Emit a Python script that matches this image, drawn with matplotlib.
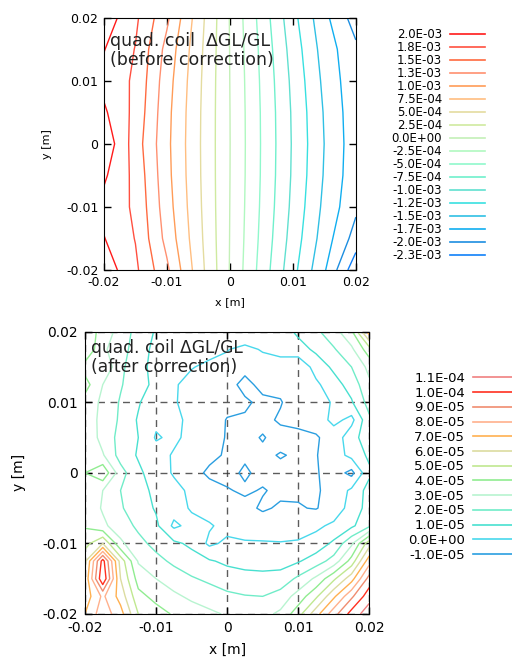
import numpy as np
import matplotlib
matplotlib.use("Agg")
import matplotlib.pyplot as plt
from matplotlib.lines import Line2D

plt.rcParams['font.family'] = ['DejaVu Sans']

# ---------------- top chart data (values in units of 1e-3) ----------------
x_top = [-0.02, -0.015, -0.01, -0.005, 0.0, 0.005, 0.01, 0.015, 0.02]
y_top = [-0.02, -0.015, -0.01, -0.005, 0.0, 0.005, 0.01, 0.015, 0.02]
z_top = [
    [2.15, 1.80, 1.30, 0.620, -0.012, -0.590, -1.170, -1.72, -2.430],
    [2.01, 1.74, 1.17, 0.580, -0.006, -0.555, -1.105, -1.62, -2.106],
    [1.92, 1.71, 1.11, 0.555, -0.002, -0.532, -1.061, -1.56, -1.950],
    [2.04, 1.68, 1.075, 0.540, 0.002, -0.518, -1.035, -1.52, -1.910],
    [2.19, 1.63, 1.06, 0.535, 0.004, -0.514, -1.026, -1.503, -1.900],
    [2.04, 1.68, 1.075, 0.540, 0.002, -0.518, -1.035, -1.52, -1.910],
    [1.92, 1.71, 1.11, 0.555, -0.002, -0.532, -1.061, -1.56, -1.930],
    [2.01, 1.74, 1.17, 0.580, -0.006, -0.555, -1.105, -1.61, -1.950],
    [2.15, 1.80, 1.30, 0.620, -0.012, -0.590, -1.170, -1.68, -2.120],
]
levels_top = [2.0, 1.75, 1.5, 1.25, 1.0, 0.75, 0.5, 0.25, 0.0,
              -0.25, -0.5, -0.75, -1.0, -1.25, -1.5, -1.75, -2.0, -2.25]
labels_top = ["2.0E-03", "1.8E-03", "1.5E-03", "1.3E-03", "1.0E-03", "7.5E-04",
              "5.0E-04", "2.5E-04", "0.0E+00", "-2.5E-04", "-5.0E-04", "-7.5E-04",
              "-1.0E-03", "-1.2E-03", "-1.5E-03", "-1.7E-03", "-2.0E-03", "-2.3E-03"]
colors_top = ["#ff1a1a", "#ff5040", "#ff6a40", "#ff9070", "#ff9c58", "#ffbe80",
              "#e4dca0", "#cfeaa0", "#c4f0b8", "#b0f8c0", "#90f8cc", "#70f0cc",
              "#60e0d0", "#38e0e0", "#30c0e4", "#10aef0", "#1c8ee0", "#1080f8"]

# ---------------- bottom chart data (values in units of 1e-5) ----------------
x_bot = [-0.02, -0.0175, -0.015, -0.0125, -0.01, -0.0075, -0.005, -0.0025, 0.0,
         0.0025, 0.005, 0.0075, 0.01, 0.0125, 0.015, 0.0175, 0.02]
y_bot = [-0.02, -0.0175, -0.015, -0.0125, -0.01, -0.0075, -0.005, -0.0025, 0.0,
         0.0025, 0.005, 0.0075, 0.01, 0.0125, 0.015, 0.0175, 0.02]
z_bot = [  # rows from y = -0.02 (bottom) to y = 0.02 (top)
    [7.0, 8.6, 7.4, 5.0, 4.4, 3.9, 3.5, 3.2, 2.9, 2.75, 2.7, 3.2, 4.6, 6.6, 8.6, 10.4, 11.6],
    [6.4, 8.2, 6.6, 4.3, 3.7, 3.2, 2.8, 2.5, 2.2, 2.05, 2.0, 2.4, 3.4, 4.8, 6.8, 8.8, 10.6],
    [6.2, 10.9, 6.0, 3.6, 3.0, 2.5, 2.1, 1.8, 1.5, 1.35, 1.3, 1.4, 2.2, 3.2, 4.8, 6.6, 9.4],
    [5.8, 10.4, 5.6, 2.9, 2.3, 1.8, 1.4, 1.1, 0.8, 0.65, 0.6, 0.6, 0.9, 1.5, 2.4, 4.4, 7.6],
    [4.6, 6.0, 3.2, 2.3, 1.7, 1.2, 0.8, -0.2, 0.2, 0.1, 0.1, 0.05, 0.1, 0.4, 1.2, 2.8, 5.6],
    [3.9, 3.2, 2.5, 1.8, 1.2, -0.2, 0.3, 0.1, -0.3, -0.45, -0.6, -0.5, -0.4, -0.2, 0.2, 0.8, 1.8],
    [3.7, 2.9, 2.1, 1.5, 0.9, 0.4, -0.1, -0.4, -0.7, -0.8, -1.1, -0.9, -0.95, -1.05, -0.6, 0.4, 1.4],
    [3.5, 3.0, 2.0, 1.3, 0.8, 0.3, -0.2, -0.7, -0.95, -1.1, -0.95, -1.15, -1.1, -1.1, -0.7, 0.2, 1.4],
    [4.0, 4.8, 2.4, 1.2, 0.5, -0.1, -0.7, -1.15, -1.2, -0.9, -1.2, -1.2, -1.05, -1.1, -0.5, -1.3, 0.8],
    [3.3, 3.1, 1.6, 0.9, 0.4, -0.1, -0.3, -0.8, -1.1, -1.1, -1.15, -0.95, -1.1, -1.05, -0.5, 0.3, 1.2],
    [3.9, 2.6, 1.7, 1.0, -0.1, 0.2, -0.3, -0.7, -1.05, -1.2, -0.95, -1.25, -1.1, -1.1, -0.6, 0.6, 1.6],
    [3.2, 2.9, 1.8, 0.9, 0.2, 0.1, -0.1, -0.5, -1.05, -1.15, -1.2, -0.9, -0.9, -0.6, 0.3, -0.3, 1.8],
    [3.6, 2.8, 1.9, 1.1, 0.3, 0.05, -0.2, -0.5, -0.7, -0.8, -1.3, -1.05, -0.6, -0.4, 0.1, 0.9, 2.4],
    [4.4, 3.0, 2.1, 1.3, 0.8, 0.1, -0.3, -0.4, -0.5, -1.4, -0.6, -0.8, -0.9, -0.2, 0.6, 1.4, 2.8],
    [3.6, 3.9, 2.2, 1.4, 0.6, 0.3, 0.05, -0.2, -0.3, -0.6, -0.5, -0.4, -0.8, 0.4, 1.2, 2.0, 3.3],
    [4.9, 3.2, 2.4, 1.5, 0.7, 0.5, 0.2, 0.3, 0.05, -0.3, 0.1, 0.3, 0.6, 1.2, 1.9, 2.8, 4.6],
    [4.7, 3.6, 2.6, 1.6, 0.9, 0.5, 0.3, 0.4, 0.6, 0.9, 0.7, 0.5, 1.2, 1.8, 2.6, 3.8, 7.5],
]
levels_bot = [11, 10, 9, 8, 7, 6, 5, 4, 3, 2, 1, 0, -1]
labels_bot = ["1.1E-04", "1.0E-04", "9.0E-05", "8.0E-05", "7.0E-05", "6.0E-05", "5.0E-05",
              "4.0E-05", "3.0E-05", "2.0E-05", "1.0E-05", "0.0E+00", "-1.0E-05"]
colors_bot = ["#f08080", "#ff3020", "#f08c70", "#ffb08c", "#ffb050", "#dcdca0", "#c0e890",
              "#90ec90", "#b8f4d0", "#70ecc8", "#48e0d0", "#48d8ec", "#2a9ee0"]

ticks = [-0.02, -0.01, 0.0, 0.01, 0.02]
tick_labels = ["-0.02", "-0.01", "0", "0.01", "0.02"]

fig = plt.figure(figsize=(5.12, 6.60), dpi=100)

# ---------------- top axes ----------------
ax1 = fig.add_axes([0.203, 0.5909, 0.492, 0.3823])
X1, Y1 = np.meshgrid(x_top, y_top)
ax1.contour(X1, Y1, np.array(z_top), levels=levels_top[::-1],
            colors=colors_top[::-1], linewidths=1.0)
ax1.set_xlim(-0.02, 0.02)
ax1.set_ylim(-0.02, 0.02)
ax1.set_xticks(ticks)
ax1.set_xticklabels(tick_labels)
ax1.set_yticks(ticks)
ax1.set_yticklabels(tick_labels)
ax1.tick_params(direction='in', top=True, right=True, length=5, width=1,
                labelsize=9, pad=4)
ax1.set_xlabel("x [m]", fontsize=8, labelpad=6)
ax1.set_ylabel("y [m]", fontsize=8, labelpad=10)
ax1.text(0.025, 0.945, "quad. coil  \u0394GL/GL\n(before correction)",
         transform=ax1.transAxes, ha='left', va='top', fontsize=12.5,
         linespacing=1.1, color='#222222')

h1 = [Line2D([], [], color=c, lw=1.2) for c in colors_top]
fig.legend(h1, labels_top, loc='upper right', bbox_to_anchor=(485 / 512, 1 - 28 / 660),
           frameon=False, markerfirst=False, fontsize=8.5, handlelength=2.97,
           handletextpad=0.68, labelspacing=0.0, borderpad=0, borderaxespad=0)

# ---------------- bottom axes ----------------
ax2 = fig.add_axes([0.166, 0.0697, 0.5553, 0.4277])
X2, Y2 = np.meshgrid(x_bot, y_bot)
ax2.contour(X2, Y2, np.array(z_bot), levels=levels_bot[::-1],
            colors=colors_bot[::-1], linewidths=1.0)
ax2.set_xlim(-0.02, 0.02)
ax2.set_ylim(-0.02, 0.02)
ax2.set_xticks(ticks)
ax2.set_xticklabels(tick_labels)
ax2.set_yticks(ticks)
ax2.set_yticklabels(tick_labels)
ax2.tick_params(direction='in', top=True, right=True, length=5, width=1,
                labelsize=10, pad=5)
ax2.grid(True, color='#333333', linestyle=(0, (5, 4)), linewidth=1.0, alpha=0.8)
ax2.set_xlabel("x [m]", fontsize=10, labelpad=6)
ax2.set_ylabel("y [m]", fontsize=10, labelpad=12)
ax2.text(0.02, 0.975, "quad. coil \u0394GL/GL\n(after correction)",
         transform=ax2.transAxes, ha='left', va='top', fontsize=12.3,
         linespacing=1.1, color='#222222')

h2 = [Line2D([], [], color=c, lw=1.2) for c in colors_bot]
fig.legend(h2, labels_bot, loc='upper right', bbox_to_anchor=(518 / 512, 1 - 372 / 660),
           frameon=False, markerfirst=False, fontsize=9.5, handlelength=3.4,
           handletextpad=0.6, labelspacing=0.13, borderpad=0, borderaxespad=0)

fig.savefig("out.png", dpi=100)
